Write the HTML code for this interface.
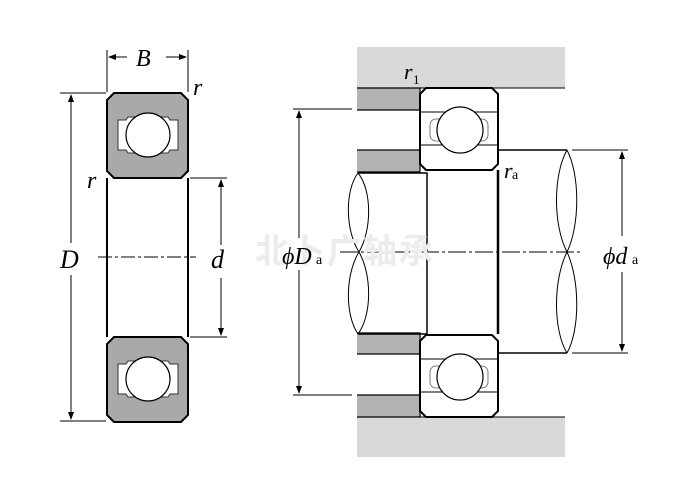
<!DOCTYPE html>
<html><head><meta charset="utf-8"><style>
body{margin:0;background:#fff}
svg{display:block}
text{font-family:"Liberation Serif",serif;fill:#000}
.i{font-style:italic}
.n{font-style:normal}
</style></head><body>
<svg width="698" height="500" viewBox="0 0 698 500" xmlns="http://www.w3.org/2000/svg">
<defs>
<marker id="a" markerWidth="8" markerHeight="8" refX="7" refY="4" orient="auto" markerUnits="userSpaceOnUse"><path d="M0,1 L8,4 L0,7 Z" fill="#000"/></marker>
<g id="lb">
 <path d="M114,93 H181 L188,100 V171 L181,178 H114 L107,171 V100 Z" fill="#a9a9a9" stroke="#000" stroke-width="2"/>
 <path d="M118,120 h8 l2,-3 h40 l2,3 h8 v30 h-8 l-2,3 h-40 l-2,-3 h-8 Z" fill="#fff" stroke="#333" stroke-width="1"/>
 <circle cx="148" cy="135" r="22" fill="#fff" stroke="#000" stroke-width="1.2"/>
</g>
</defs>
<use href="#lb"/>
<use href="#lb" transform="translate(0,244)"/>
<line x1="107" y1="178" x2="107" y2="337" stroke="#000" stroke-width="2"/>
<line x1="188" y1="178" x2="188" y2="337" stroke="#000" stroke-width="2"/>
<line x1="98" y1="257" x2="196" y2="257" stroke="#000" stroke-dasharray="14,3,3,3"/>
<line x1="107" y1="50" x2="107" y2="92" stroke="#000"/>
<line x1="188" y1="50" x2="188" y2="92" stroke="#000"/>
<line x1="127" y1="57" x2="109" y2="57" stroke="#000" marker-end="url(#a)"/>
<line x1="166" y1="57" x2="186" y2="57" stroke="#000" marker-end="url(#a)"/>
<text class="i" x="136" y="66" font-size="24">B</text>
<text class="i" x="193" y="95" font-size="24">r</text>
<text class="i" x="87" y="188" font-size="24">r</text>
<line x1="60" y1="93" x2="106" y2="93" stroke="#000"/>
<line x1="60" y1="421" x2="106" y2="421" stroke="#000"/>
<line x1="71" y1="243" x2="71" y2="95" stroke="#000" marker-end="url(#a)"/>
<line x1="71" y1="275" x2="71" y2="419" stroke="#000" marker-end="url(#a)"/>
<text class="i" x="60" y="268" font-size="26">D</text>
<line x1="190" y1="178" x2="227" y2="178" stroke="#000"/>
<line x1="190" y1="337" x2="227" y2="337" stroke="#000"/>
<line x1="221" y1="245" x2="221" y2="180" stroke="#000" marker-end="url(#a)"/>
<line x1="221" y1="278" x2="221" y2="335" stroke="#000" marker-end="url(#a)"/>
<text class="i" x="211" y="268" font-size="26">d</text>

<rect x="357" y="47" width="208" height="41" fill="#d9d9d9"/>
<line x1="357" y1="88" x2="565" y2="88" stroke="#000"/>
<rect x="357" y="417" width="208" height="40" fill="#d9d9d9"/>
<line x1="357" y1="417" x2="565" y2="417" stroke="#000"/>
<g fill="#b3b3b3" stroke="#000" stroke-width="1.2">
<path d="M357,88 H420 V110 H357"/>
<path d="M357,150 H420 V172 H357"/>
<path d="M357,333 H420 V354 H357"/>
<path d="M357,395 H420 V417 H357"/>
</g>
<path d="M358,173 H427 V334 H358" fill="none" stroke="#000" stroke-width="1.5"/>
<path d="M358,173 C345,190 345,230 359,252 C345,275 345,315 358,334" fill="none" stroke="#000"/>
<path d="M358,173 C372,190 372,230 359,252 C372,275 372,315 358,334" fill="none" stroke="#000"/>
<path d="M498,150 H567 M498,353 H567" stroke="#000" stroke-width="1.5" fill="none"/>
<path d="M567,150 C553,175 553,225 567,252 C580,280 580,330 567,353" fill="none" stroke="#000"/>
<path d="M567,150 C580,175 580,225 567,252 C553,280 553,330 567,353" fill="none" stroke="#000"/>
<line x1="498" y1="170" x2="498" y2="334" stroke="#000" stroke-width="2.5"/>
<g id="rb">
<path d="M426,88 H492 L498,94 V164 L492,170 H426 L420,164 V94 Z" fill="#fff" stroke="#000" stroke-width="2"/>
<path d="M421,112 H497 M421,145 H497" stroke="#000" stroke-width="1"/>
<rect x="430" y="119" width="58" height="22" rx="6" fill="#fff" stroke="#555" stroke-width="0.8"/>
<circle cx="460" cy="130" r="23" fill="#fff" stroke="#000" stroke-width="1.2"/>
</g>
<use href="#rb" transform="translate(0,247)"/>
<line x1="340" y1="252" x2="580" y2="252" stroke="#000" stroke-dasharray="18,3,3,3"/>
<text class="n" x="255" y="263" font-size="34" font-weight="bold" style="font-family:'Noto Sans CJK SC',sans-serif;fill:#ececec" letter-spacing="2">北卜广轴承</text>
<line x1="293" y1="109" x2="352" y2="109" stroke="#000"/>
<line x1="293" y1="395" x2="352" y2="395" stroke="#000"/>
<line x1="299" y1="238" x2="299" y2="111" stroke="#000" marker-end="url(#a)"/>
<line x1="299" y1="270" x2="299" y2="393" stroke="#000" marker-end="url(#a)"/>
<text class="i" x="282" y="264" font-size="24">ϕD</text>
<text class="n" x="316" y="264" font-size="14">a</text>
<line x1="572" y1="150" x2="628" y2="150" stroke="#000"/>
<line x1="572" y1="353" x2="628" y2="353" stroke="#000"/>
<line x1="622" y1="236" x2="622" y2="152" stroke="#000" marker-end="url(#a)"/>
<line x1="622" y1="272" x2="622" y2="351" stroke="#000" marker-end="url(#a)"/>
<text class="i" x="603" y="264" font-size="24">ϕd</text>
<text class="n" x="632" y="264" font-size="14">a</text>
<text class="i" x="404" y="79" font-size="22">r</text>
<text class="n" x="413" y="84" font-size="13">1</text>
<text class="i" x="504" y="178" font-size="22">r</text>
<text class="n" x="512" y="179" font-size="14">a</text>
</svg>
</body></html>
